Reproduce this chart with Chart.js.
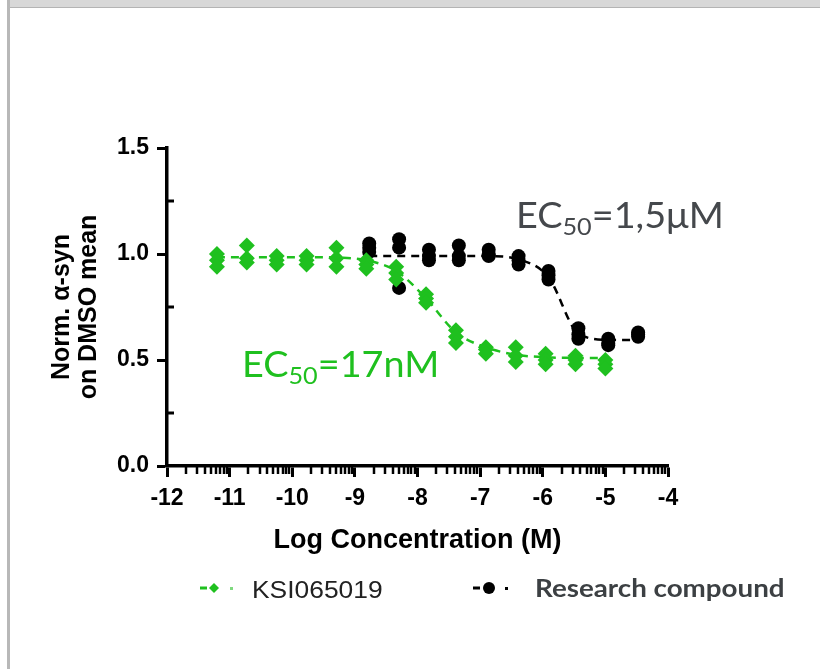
<!DOCTYPE html>
<html>
<head>
<meta charset="utf-8">
<script src="https://cdn.jsdelivr.net/npm/chart.js@4.4.1/dist/chart.umd.min.js"></script>
<style>
  body { margin: 0; background: #fff; }
  #wrap { position: absolute; left: 0; top: 0; width: 820px; height: 669px; }
  #topband { position: absolute; left: 7px; top: 0; width: 813px; height: 7px; background: #d8d8d8; border-bottom: 1px solid #b4b4b4; }
  #leftline { position: absolute; left: 7px; top: 0; width: 3px; height: 669px; background: #b8b8b8; }
</style>
</head>
<body>
<div id="wrap"><canvas id="chart"></canvas></div>
<div id="topband"></div>
<div id="leftline"></div>
<script>
// log concentration (M), 3-fold dilutions
const ksiConc = [-11.203, -10.726, -10.249, -9.771, -9.294, -8.817, -8.34, -7.863, -7.386, -6.908, -6.431, -5.954, -5.477, -5.0];
const ksiRep1 = [1.00, 1.04, 0.99, 0.99, 1.03, 0.97, 0.94, 0.81, 0.64, 0.56, 0.56, 0.53, 0.52, 0.50];
const ksiRep2 = [0.97, 0.98, 0.97, 0.97, 0.98, 0.95, 0.91, 0.79, 0.61, 0.55, 0.52, 0.50, 0.50, 0.48];
const ksiRep3 = [0.94, 0.96, 0.95, 0.95, 0.94, 0.93, 0.88, 0.77, 0.58, 0.53, 0.49, 0.48, 0.48, 0.46];
const ksiCurve = [0.985, 0.985, 0.985, 0.985, 0.983, 0.97, 0.92, 0.79, 0.63, 0.56, 0.525, 0.513, 0.51, 0.51];

const resConc = [-8.771, -8.294, -7.817, -7.34, -6.863, -6.386, -5.908, -5.431, -4.954, -4.477];
const resRep1 = [1.05, 1.07, 1.02, 1.04, 1.02, 0.99, 0.92, 0.65, 0.60, 0.63];
const resRep2 = [1.03, 1.03, 0.99, 0.99, 1.00, 0.97, 0.90, 0.62, 0.58, 0.62];
const resRep3 = [1.01, 0.84, 0.97, 0.97, 0.99, 0.95, 0.88, 0.60, 0.57, 0.61];
const resCurve = [0.99, 0.99, 0.99, 0.99, 0.99, 0.975, 0.89, 0.625, 0.595, 0.594];

const xTicks = [-12, -11, -10, -9, -8, -7, -6, -5, -4];
const yTicks = [0, 0.5, 1.0, 1.5];
const yMinorTicks = [0.25, 0.75, 1.25];

const GREEN = '#1fc01f';
const BLACK = '#000000';

function reps(conc, ...series) {
    const pts = [];
    series.forEach(s => s.forEach((v, i) => pts.push({ x: conc[i], y: v })));
    return pts;
}
function curve(conc, vals) {
    return conc.map((c, i) => ({ x: c, y: vals[i] }));
}

// text drawn a bit wider than the font, the source image is stretched
function wideText(ctx, text, x, y, sx) {
    ctx.save();
    ctx.translate(x, y);
    ctx.scale(sx, 1);
    ctx.fillText(text, 0, 0);
    const w = ctx.measureText(text).width * sx;
    ctx.restore();
    return w;
}

const extras = {
    id: 'extras',
    afterDraw(chart) {
        const ctx = chart.ctx;
        const xs = chart.scales.x;
        const ys = chart.scales.y;
        const area = chart.chartArea;
        ctx.save();
        // minor log ticks on x
        ctx.strokeStyle = '#000';
        ctx.lineWidth = 2.5;
        for (let n = -12; n < -4; n++) {
            for (let k = 2; k <= 9; k++) {
                const px = Math.round(xs.getPixelForValue(n + Math.log10(k)));
                ctx.beginPath();
                ctx.moveTo(px, area.bottom);
                ctx.lineTo(px, area.bottom + 8);
                ctx.stroke();
            }
        }
        // minor ticks on y (inside)
        ctx.lineWidth = 3;
        yMinorTicks.forEach(v => {
            const py = Math.round(ys.getPixelForValue(v));
            ctx.beginPath();
            ctx.moveTo(area.left, py);
            ctx.lineTo(area.left + 7, py);
            ctx.stroke();
        });

        // EC50 labels
        function ec50(x, y, color, rest) {
            ctx.fillStyle = color;
            ctx.textBaseline = 'alphabetic';
            ctx.font = '36px Lato';
            let w = wideText(ctx, 'EC', x, y, 1.05);
            ctx.font = '24px Lato';
            w += wideText(ctx, '50', x + w, y + 7, 1.05);
            ctx.font = '36px Lato';
            wideText(ctx, rest, x + w, y, 1.05);
        }
        ec50(516, 228, '#45484c', '=1,5\u03bcM');
        ec50(242, 377, GREEN, '=17nM');

        // legend
        const ly = 588;
        ctx.lineWidth = 3;
        ctx.strokeStyle = GREEN;
        ctx.beginPath(); ctx.moveTo(200, ly); ctx.lineTo(207, ly); ctx.stroke();
        ctx.fillStyle = GREEN;
        ctx.beginPath();
        ctx.moveTo(214, ly - 5); ctx.lineTo(219, ly); ctx.lineTo(214, ly + 5); ctx.lineTo(209, ly);
        ctx.closePath(); ctx.fill();
        ctx.fillStyle = '#7fd97f';
        ctx.fillRect(230, ly - 1, 3, 3);
        ctx.fillStyle = '#222';
        ctx.font = '24px "Liberation Sans"';
        ctx.textBaseline = 'alphabetic';
        wideText(ctx, 'KSI065019', 252, 598, 1.1);

        ctx.strokeStyle = BLACK;
        ctx.beginPath(); ctx.moveTo(473, ly); ctx.lineTo(480, ly); ctx.stroke();
        ctx.fillStyle = BLACK;
        ctx.beginPath(); ctx.arc(489, ly, 6, 0, Math.PI * 2); ctx.fill();
        ctx.fillRect(505, ly - 1, 3, 3);
        ctx.fillStyle = '#3c4043';
        ctx.font = 'bold 25px Lato';
        wideText(ctx, 'Research compound', 535, 597, 1.11);
        ctx.restore();
    }
};

new Chart(document.getElementById('chart'), {
    type: 'scatter',
    data: {
        datasets: [
            {
                label: 'KSI065019',
                data: reps(ksiConc, ksiRep1, ksiRep2, ksiRep3),
                pointStyle: 'rectRot',
                pointRadius: 8,
                backgroundColor: GREEN,
                borderColor: GREEN,
                borderWidth: 0
            },
            {
                label: 'Research compound',
                data: reps(resConc, resRep1, resRep2, resRep3),
                pointStyle: 'circle',
                pointRadius: 7,
                backgroundColor: BLACK,
                borderColor: BLACK,
                borderWidth: 0
            },
            {
                label: 'KSI065019 fit',
                data: curve(ksiConc, ksiCurve),
                showLine: true,
                pointRadius: 0,
                borderColor: GREEN,
                borderWidth: 2.5,
                borderDash: [8, 6],
                cubicInterpolationMode: 'monotone'
            },
            {
                label: 'Research compound fit',
                data: curve(resConc, resCurve),
                showLine: true,
                pointRadius: 0,
                borderColor: BLACK,
                borderWidth: 2.5,
                borderDash: [8, 6],
                cubicInterpolationMode: 'monotone'
            }
        ]
    },
    options: {
        responsive: true,
        maintainAspectRatio: false,
        animation: false,
        layout: { padding: { top: 148, right: 152, left: 0, bottom: 0 } },
        plugins: { legend: { display: false }, tooltip: { enabled: false } },
        scales: {
            x: {
                type: 'linear',
                min: -12,
                max: -4,
                afterBuildTicks: (s) => { s.ticks = xTicks.map(v => ({ value: v })); },
                afterFit: (s) => { s.height = 669 - 466; },
                ticks: {
                    color: '#000',
                    font: { family: '"Liberation Sans"', weight: 'bold', size: 23 },
                    padding: 8,
                    maxRotation: 0,
                    autoSkip: false,
                    callback: (v) => String(v)
                },
                grid: { drawOnChartArea: false, drawTicks: true, tickLength: 11, tickWidth: 3, tickColor: '#000' },
                border: { display: true, color: '#000', width: 3.5 },
                title: {
                    display: true,
                    text: 'Log Concentration (M)',
                    color: '#000',
                    font: { family: '"Liberation Sans"', weight: 'bold', size: 27 },
                    padding: { top: 0, bottom: 112 }
                }
            },
            y: {
                min: 0,
                max: 1.5,
                afterBuildTicks: (s) => { s.ticks = yTicks.map(v => ({ value: v })); },
                afterFit: (s) => { s.width = 167; },
                ticks: {
                    color: '#000',
                    font: { family: '"Liberation Sans"', weight: 'bold', size: 23 },
                    padding: 8,
                    callback: (v) => Number(v).toFixed(1)
                },
                grid: { drawOnChartArea: false, drawTicks: true, tickLength: 10, tickWidth: 3, tickColor: '#000' },
                border: { display: true, color: '#000', width: 3.5 },
                title: {
                    display: true,
                    text: ['Norm. \u03b1-syn', 'on DMSO mean'],
                    color: '#000',
                    font: { family: '"Liberation Sans"', weight: 'bold', size: 25, lineHeight: 1.08 },
                    padding: { top: 49, bottom: 0 }
                }
            }
        }
    },
    plugins: [extras]
});
</script>
</body>
</html>
